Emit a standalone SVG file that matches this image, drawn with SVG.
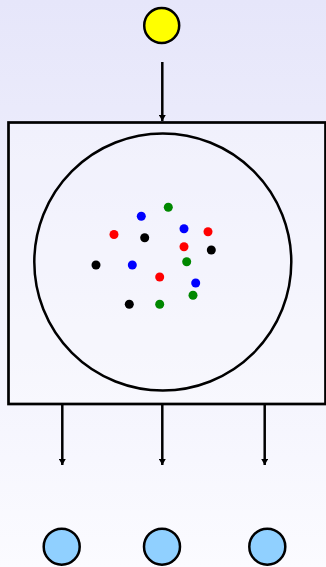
<svg xmlns="http://www.w3.org/2000/svg" width="326" height="567" viewBox="0 0 326 567">
<defs>
<linearGradient id="bg" x1="0" y1="0" x2="0" y2="1">
<stop offset="0" stop-color="#e6e6fa"/>
<stop offset="1" stop-color="#fbfbff"/>
</linearGradient>
<marker id="ah" markerWidth="6" markerHeight="7" refX="6" refY="3.5" orient="auto" markerUnits="userSpaceOnUse">
<path d="M0,0 L6,3.5 L0,7 Z" fill="#000"/>
</marker>
<style>
.edge{stroke:#000;stroke-width:2.5;fill:none;marker-end:url(#ah)}
.dot{stroke:none}
.k{fill:#000}.r{fill:#ff0000}.g{fill:#008800}.b{fill:#0000ff}
</style>
</defs>
<rect width="326" height="567" fill="url(#bg)"/>
<g id="source"><circle cx="161.7" cy="25.5" r="17.5" fill="#ffff00" stroke="#000" stroke-width="2.5"/></g>
<g id="container">
<rect x="8.5" y="122.5" width="317" height="281.5" fill="#ffffff" fill-opacity="0.3" stroke="#000" stroke-width="2.7"/>
<circle cx="162.8" cy="262" r="128.5" fill="none" stroke="#000" stroke-width="2.5"/>
<g id="dots">
<circle class="dot g" cx="168.3" cy="207.3" r="4.5"/>
<circle class="dot b" cx="141.3" cy="216.3" r="4.5"/>
<circle class="dot b" cx="184" cy="228.7" r="4.5"/>
<circle class="dot r" cx="208" cy="231.7" r="4.5"/>
<circle class="dot r" cx="114" cy="234.5" r="4.5"/>
<circle class="dot k" cx="144.7" cy="237.7" r="4.5"/>
<circle class="dot r" cx="184" cy="246.7" r="4.5"/>
<circle class="dot k" cx="211.3" cy="250" r="4.5"/>
<circle class="dot g" cx="186.7" cy="261.7" r="4.5"/>
<circle class="dot k" cx="96" cy="265" r="4.5"/>
<circle class="dot b" cx="132.3" cy="265" r="4.5"/>
<circle class="dot r" cx="159.7" cy="277" r="4.5"/>
<circle class="dot b" cx="195.7" cy="283" r="4.5"/>
<circle class="dot g" cx="193" cy="295.3" r="4.5"/>
<circle class="dot k" cx="129.3" cy="304.3" r="4.5"/>
<circle class="dot g" cx="159.7" cy="304.3" r="4.5"/>
</g>
</g>
<g id="out1"><circle cx="61.7" cy="546.7" r="18" fill="#90d0ff" stroke="#000" stroke-width="2.5"/></g>
<g id="out2"><circle cx="162" cy="546.7" r="18" fill="#90d0ff" stroke="#000" stroke-width="2.5"/></g>
<g id="out3"><circle cx="267.3" cy="546.7" r="18" fill="#90d0ff" stroke="#000" stroke-width="2.5"/></g>
<g id="connectors">
<line class="edge" x1="162.3" y1="62" x2="162.3" y2="121"/>
<line class="edge" x1="62.3" y1="405" x2="62.3" y2="465"/>
<line class="edge" x1="162.3" y1="405" x2="162.3" y2="465"/>
<line class="edge" x1="264.7" y1="405" x2="264.7" y2="465"/>
</g>
</svg>
